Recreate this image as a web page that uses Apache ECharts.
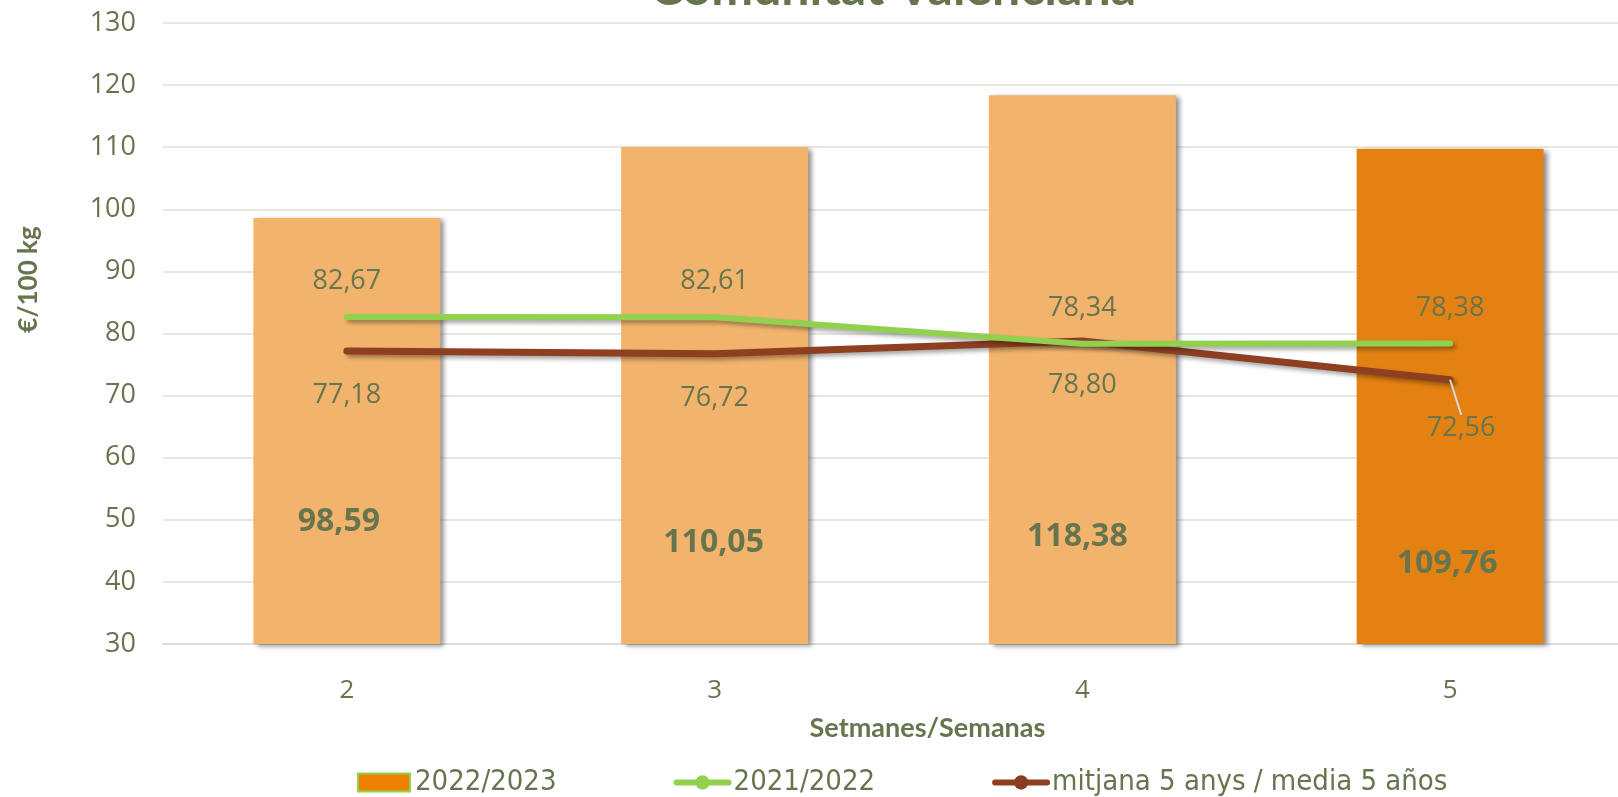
<!DOCTYPE html>
<html>
<head>
<meta charset="utf-8">
<script src="https://cdn.jsdelivr.net/npm/echarts@6/dist/echarts.min.js"></script>
<style>
  html, body { margin: 0; padding: 0; background: #fff; overflow: hidden; }
  #chart { width: 1640px; height: 797px; }
</style>
</head>
<body>
<div id="chart"></div>
<script>
// setmanes / semanas
var weeks = ['2', '3', '4', '5'];
var season2223 = [98.59, 110.05, 118.38, 109.76];
var season2122 = [82.67, 82.61, 78.34, 78.38];
var media5 = [77.18, 76.72, 78.80, 72.56];

var textColor = '#67754f';
var fmt = function (p) {
    return p.value.toFixed(2).replace('.', ',');
};

var chart = echarts.init(document.getElementById('chart'));

// per-bar label shift [dx, lift above bar base], the original labels sit unevenly
var barLabelShift = [[-8, 122], [-1, 101], [-5, 107], [-3, 80]];

var option = {
    animation: false,
    textStyle: { fontFamily: 'Open Sans' },
    title: {
        text: 'Comunitat Valenciana',
        left: 888,
        textAlign: 'center',
        top: -41,
        textStyle: { color: textColor, fontSize: 50, fontWeight: 'bold', fontFamily: 'Lato' }
    },
    grid: { left: 163, top: 23, width: 1471, height: 621 },
    legend: {
        bottom: -5,
        left: 352,
        itemWidth: 52,
        itemHeight: 18,
        itemGap: 117,
        textStyle: { color: textColor, fontSize: 29, fontFamily: 'DejaVu Sans Condensed' },
        data: [
            { name: '2022/2023', icon: 'rect', itemStyle: { color: '#f08000', borderColor: '#92d050', borderWidth: 2 } },
            { name: '2021/2022', lineStyle: { width: 6 } },
            { name: 'mitjana 5 anys / media 5 años', lineStyle: { width: 6 } }
        ]
    },
    xAxis: {
        type: 'category',
        data: weeks,
        name: 'Setmanes/Semanas',
        nameLocation: 'middle',
        nameGap: 71,
        nameTextStyle: { color: textColor, fontSize: 27, fontWeight: 'bold', fontFamily: 'Lato', padding: [0, 0, 0, 58] },
        axisLine: { lineStyle: { color: '#dcdcd4', width: 2 } },
        axisTick: { show: false },
        axisLabel: { color: textColor, fontSize: 26, margin: 34 }
    },
    yAxis: {
        type: 'value',
        min: 30,
        max: 130,
        interval: 10,
        name: '€/100 kg',
        nameLocation: 'middle',
        nameGap: 121,
        nameTextStyle: { color: textColor, fontSize: 26, fontWeight: 'bold', fontFamily: 'Lato', padding: [0, 0, 0, 108] },
        axisLine: { show: false },
        axisTick: { show: false },
        axisLabel: { color: textColor, fontSize: 27, margin: 27 },
        splitLine: { lineStyle: { color: '#e8e8e2', width: 2 } }
    },
    series: [
        {
            name: '2022/2023',
            type: 'bar',
            barWidth: 187,
            z: 1,
            data: season2223.map(function (v, i) {
                return {
                    value: v,
                    itemStyle: { color: i === season2223.length - 1 ? '#e38212' : '#f2b46d' },
                    label: { offset: [barLabelShift[i][0], -barLabelShift[i][1] + 16] }
                };
            }),
            itemStyle: {
                shadowColor: 'rgba(0,0,0,0.45)',
                shadowBlur: 5,
                shadowOffsetX: 4,
                shadowOffsetY: 2
            },
            label: {
                show: true,
                position: 'insideBottom',
                distance: 0,
                formatter: fmt,
                color: textColor,
                fontSize: 32,
                fontWeight: 'bold'
            }
        },
        {
            name: '2021/2022',
            type: 'line',
            data: season2122,
            z: 3,
            symbol: 'circle',
            symbolSize: 0.1,
            showSymbol: true,
            itemStyle: { color: '#92d050' },
            lineStyle: {
                color: '#92d050',
                width: 6,
                cap: 'round',
                shadowColor: 'rgba(0,0,0,0.35)',
                shadowBlur: 4,
                shadowOffsetX: 3,
                shadowOffsetY: 3
            },
            label: {
                show: true,
                position: 'top',
                distance: 22,
                formatter: fmt,
                color: textColor,
                fontSize: 27
            }
        },
        {
            name: 'mitjana 5 anys / media 5 años',
            type: 'line',
            data: media5.map(function (v, i) {
                return i === media5.length - 1 ? { value: v, labelLine: { show: true } } : v;
            }),
            z: 2,
            symbol: 'circle',
            symbolSize: 0.1,
            showSymbol: true,
            itemStyle: { color: '#8b3e1f' },
            lineStyle: {
                color: '#8e3f20',
                width: 7,
                cap: 'round',
                shadowColor: 'rgba(0,0,0,0.35)',
                shadowBlur: 4,
                shadowOffsetX: 3,
                shadowOffsetY: 3
            },
            label: {
                show: true,
                position: 'bottom',
                distance: 31,
                formatter: fmt,
                color: textColor,
                fontSize: 27
            },
            labelLine: { show: false, lineStyle: { color: '#d9d9d9', width: 2 } },
            labelLayout: function (params) {
                if (params.dataIndex === media5.length - 1) {
                    return { dx: 11, dy: 4 };
                }
                return {};
            }
        }
    ]
};

chart.setOption(option);
</script>
</body>
</html>
